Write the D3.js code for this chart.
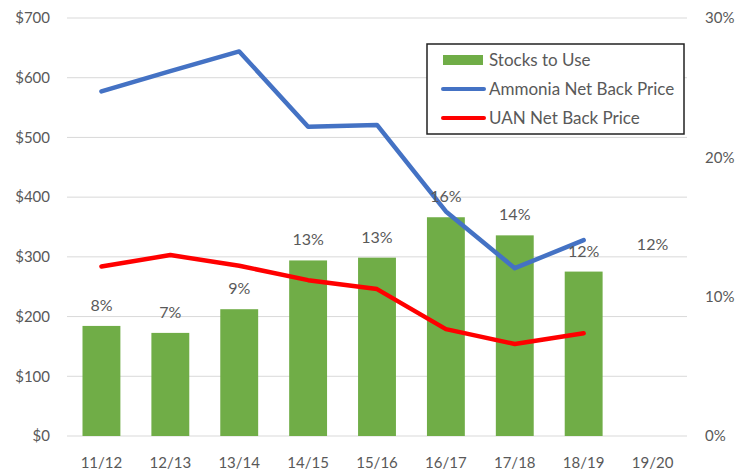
<!DOCTYPE html>
<html lang="en">
<head>
    <meta charset="UTF-8">
    <title>Stocks to Use vs Net Back Price</title>
    <script src="https://d3js.org/d3.v7.min.js"></script>
    <style>
        body { margin: 0; background: #fff; }
        text { font-family: Lato, "Open Sans", sans-serif; fill: #595959; }
    </style>
</head>
<body>
    <svg id='chart' width='740' height='475'></svg>

    <script>
        // data
        var years = ['11/12', '12/13', '13/14', '14/15', '15/16', '16/17', '17/18', '18/19', '19/20']
        var stocksToUse = [7.9, 7.4, 9.1, 12.6, 12.8, 15.7, 14.4, 11.8, 12.3]   // percent
        var hasBar = [true, true, true, true, true, true, true, true, false]
        var ammonia = [577, 611, 644, 518, 521, 376, 281, 328]                 // $ per ton
        var uan = [284, 303, 285, 261, 246, 179, 154, 172]
        var priceTicks = [0, 100, 200, 300, 400, 500, 600, 700]
        var pctTicks = [0, 10, 20, 30]

        var svg = d3.select('#chart'),
            plotLeft = 67, plotRight = 687, plotTop = 18, plotBottom = 436

        var x = d3.scaleBand().domain(years).range([plotLeft, plotRight]).paddingInner(0.45).paddingOuter(0.225)
        var yPrice = d3.scaleLinear().domain([0, 700]).range([plotBottom, plotTop])
        var yPct = d3.scaleLinear().domain([0, 30]).range([plotBottom, plotTop])

        // gridlines
        svg.append('g').selectAll('line').data(priceTicks).join('line')
            .attr('x1', plotLeft).attr('x2', plotRight)
            .attr('y1', d => yPrice(d)).attr('y2', d => yPrice(d))
            .attr('stroke', '#d9d9d9').attr('stroke-width', 1)

        // left axis
        svg.append('g').selectAll('text').data(priceTicks).join('text')
            .attr('x', 50).attr('y', d => yPrice(d)).attr('dy', '0.35em')
            .attr('text-anchor', 'end').attr('font-size', 15)
            .text(d => '$' + d)

        // right axis
        svg.append('g').selectAll('text').data(pctTicks).join('text')
            .attr('x', 705).attr('y', d => yPct(d)).attr('dy', '0.35em')
            .attr('font-size', 15)
            .text(d => d + '%')

        // x labels
        svg.append('g').selectAll('text').data(years).join('text')
            .attr('x', d => x(d) + x.bandwidth() / 2).attr('y', 463).attr('dy', '0.35em')
            .attr('text-anchor', 'middle').attr('font-size', 15)
            .text(d => d)

        // bars
        var barData = years.map((y, i) => ({ year: y, v: stocksToUse[i], show: hasBar[i] }))
        svg.append('g').selectAll('rect').data(barData.filter(d => d.show)).join('rect')
            .attr('x', d => x(d.year)).attr('width', x.bandwidth())
            .attr('y', d => yPct(d.v)).attr('height', d => plotBottom - yPct(d.v))
            .attr('fill', '#70ad47')

        // lines
        var line = d3.line()
            .x((d, i) => x(years[i]) + x.bandwidth() / 2)
            .y(d => yPrice(d))
        svg.append('path').datum(ammonia).attr('d', line)
            .attr('fill', 'none').attr('stroke', '#4472c4').attr('stroke-width', 4.5)
            .attr('stroke-linejoin', 'round').attr('stroke-linecap', 'round')
        svg.append('path').datum(uan).attr('d', line)
            .attr('fill', 'none').attr('stroke', '#ff0000').attr('stroke-width', 4.5)
            .attr('stroke-linejoin', 'round').attr('stroke-linecap', 'round')

        // bar labels
        svg.append('g').selectAll('text').data(barData).join('text')
            .attr('x', d => x(d.year) + x.bandwidth() / 2).attr('y', d => yPct(d.v) - 15)
            .attr('text-anchor', 'middle').attr('font-size', 16)
            .text(d => Math.round(d.v) + '%')

        // legend
        var lg = svg.append('g')
        lg.append('rect').attr('x', 427).attr('y', 44).attr('width', 257).attr('height', 90)
            .attr('fill', '#fff').attr('stroke', '#222').attr('stroke-width', 1.5)
        var items = [
            { name: 'Stocks to Use', color: '#70ad47', bar: true },
            { name: 'Ammonia Net Back Price', color: '#4472c4' },
            { name: 'UAN Net Back Price', color: '#ff0000' }
        ]
        items.forEach(function(it, i) {
            var cy = 60 + i * 29
            if (it.bar) {
                lg.append('rect').attr('x', 443).attr('y', cy - 5).attr('width', 40).attr('height', 10).attr('fill', it.color)
            } else {
                lg.append('line').attr('x1', 443).attr('x2', 484).attr('y1', cy).attr('y2', cy)
                    .attr('stroke', it.color).attr('stroke-width', 4).attr('stroke-linecap', 'round')
            }
            lg.append('text').attr('x', 489).attr('y', cy).attr('dy', '0.35em')
                .attr('font-size', 17).text(it.name)
        })
    </script>
</body>
</html>
